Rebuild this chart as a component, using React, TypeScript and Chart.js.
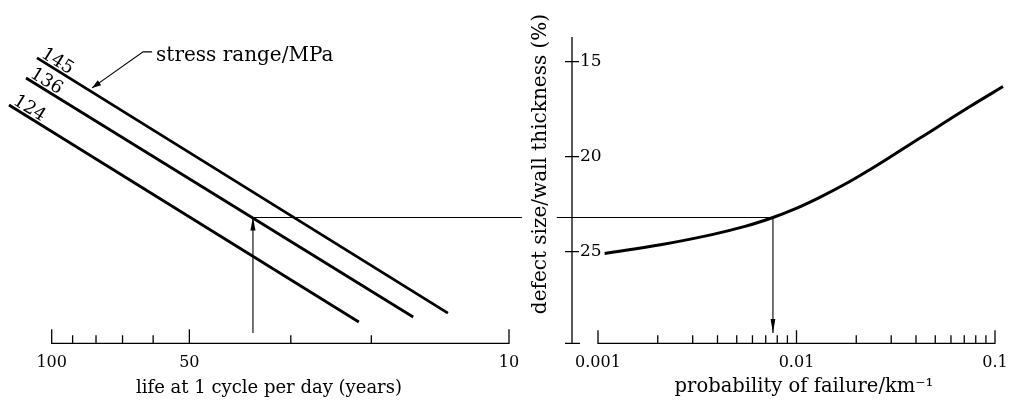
import React, { useEffect, useRef } from "react";
import { Chart, registerables } from "chart.js";

Chart.register(...registerables);

// ---------------- data ----------------
// left panel: life at 1 cycle per day (years), log axis running 100 -> 10
const lifeTickValues = [100, 90, 80, 70, 60, 50, 30, 20, 10];
const lifeMajorTicks = [100, 50, 10];

// right panel: probability of failure per km, log axis 0.001 -> 0.1
const probTickValues = [
  0.001, 0.002, 0.003, 0.004, 0.005, 0.006, 0.007, 0.008, 0.009,
  0.01, 0.02, 0.03, 0.04, 0.05, 0.06, 0.07, 0.08, 0.09, 0.1,
];
const probMajorTicks = [0.001, 0.01, 0.1];

// shared vertical quantity: defect size / wall thickness (%)
const defectTickValues = [15, 20, 25];
const defectAxisTop = 13.7;

// stress-range lines (start and end of each straight line)
const stressRanges = ["145", "136", "124"];
const life145 = [107.7, 13.6];
const defect145 = [14.8, 28.23];
const life136 = [113.8, 16.2];
const defect136 = [15.86, 28.44];
const life124 = [124.0, 21.3];
const defect124 = [17.28, 28.7];

// probability-of-failure curve
const failureProbability = [
  0.00108, 0.0021, 0.00375, 0.0055, 0.00761, 0.00983, 0.0131, 0.0176, 0.0235, 0.0313, 0.0419, 0.0748, 0.1097,
];
const failureDefect = [
  25.09, 24.62, 24.1, 23.67, 23.2, 22.75, 22.14, 21.44, 20.67, 19.86, 19.02, 17.36, 16.31,
];

// worked example (construction lines)
const exampleDefect = 23.2;
const exampleLife = 36.3;
const exampleProbability = 0.00761;
const guideLifeEnd = 9.37;
const guideProbStart = 0.00062;
const arrowFootDefect = 29.28;

// annotation pointing at the 145 MPa line
const stressNoteText = "stress range/MPa";
const stressNoteLife = 81.6;
const stressNoteDefect = 16.38;

// ---------------- style / layout ----------------
const INK = "#000";
const FONT = "'DejaVu Serif', 'Liberation Serif', serif";
const W = 1013;
const H = 401;
const AREA_BOTTOM = 343.3;
const XAXIS_HEIGHT = H - AREA_BOTTOM;

Chart.defaults.font.family = FONT;
Chart.defaults.color = INK;

function logAt(px: number, pxA: number, vA: number, pxB: number, vB: number) {
  const la = Math.log10(vA);
  const lb = Math.log10(vB);
  return Math.pow(10, la + ((lb - la) * (px - pxA)) / (pxB - pxA));
}
function linAt(px: number, pxA: number, vA: number, pxB: number, vB: number) {
  return vA + ((vB - vA) * (px - pxA)) / (pxB - pxA);
}
function textWidth(text: string, size: number) {
  const c = document.createElement("canvas").getContext("2d")!;
  c.font = `${size}px ${FONT}`;
  return c.measureText(text).width;
}
function pts(xs: number[], ys: number[]) {
  return xs.map((x, i) => ({ x, y: ys[i] }));
}

function drawArrowHead(
  ctx: CanvasRenderingContext2D,
  x1: number, y1: number, x2: number, y2: number,
  len: number, half: number
) {
  const a = Math.atan2(y2 - y1, x2 - x1);
  const c = Math.cos(a);
  const s = Math.sin(a);
  ctx.beginPath();
  ctx.moveTo(x2, y2);
  ctx.lineTo(x2 - len * c + half * s, y2 - len * s - half * c);
  ctx.lineTo(x2 - len * c - half * s, y2 - len * s + half * c);
  ctx.closePath();
  ctx.fill();
}

const figurePlugin = {
  id: "figure",
  afterDraw(chart: any, _args: any, opts: any) {
    const ctx: CanvasRenderingContext2D = chart.ctx;
    const area = chart.chartArea;
    const sx = chart.scales.x;
    const sy = chart.scales.y;
    ctx.save();
    ctx.strokeStyle = INK;
    ctx.fillStyle = INK;

    // bottom axis line with inward ticks
    if (opts.xAxis) {
      const yb = area.bottom;
      const n = sx.ticks.length;
      const p0 = sx.getPixelForTick(0);
      const p1 = sx.getPixelForTick(n - 1);
      ctx.lineWidth = 1.3;
      ctx.beginPath();
      ctx.moveTo(Math.min(p0, p1) - 0.6, yb);
      ctx.lineTo(Math.max(p0, p1) + 0.6, yb);
      sx.ticks.forEach((t: any, i: number) => {
        const p = sx.getPixelForTick(i);
        const len = t.major ? opts.xAxis.majorLen : opts.xAxis.minorLen;
        ctx.moveTo(p, yb + 0.6);
        ctx.lineTo(p, yb - len);
      });
      ctx.stroke();
    }

    // vertical axis with cross ticks
    if (opts.yAxis) {
      const x0 = area.left;
      const top = sy.getPixelForValue(opts.yAxis.top);
      const bottom = area.bottom;
      const h = opts.yAxis.half;
      ctx.lineWidth = 1.3;
      ctx.beginPath();
      ctx.moveTo(x0, top);
      ctx.lineTo(x0, bottom);
      sy.ticks.forEach((_t: any, i: number) => {
        const p = sy.getPixelForTick(i);
        ctx.moveTo(x0 - h, p);
        ctx.lineTo(x0 + h, p);
      });
      ctx.moveTo(x0 - h, bottom);
      ctx.lineTo(x0 + h + 1, bottom);
      ctx.stroke();
    }

    // arrow heads and in-line labels
    chart.data.datasets.forEach((ds: any, i: number) => {
      const el = chart.getDatasetMeta(i).data;
      if (ds.arrowHead && el.length >= 2) {
        const a = el[el.length - 2];
        const b = el[el.length - 1];
        drawArrowHead(ctx, a.x, a.y, b.x, b.y, ds.arrowHead.length, ds.arrowHead.half);
      }
      if (ds.lineLabel && el.length >= 2) {
        const a = el[0];
        const b = el[1];
        ctx.save();
        ctx.translate(a.x, a.y);
        ctx.rotate(Math.atan2(b.y - a.y, b.x - a.x));
        ctx.font = opts.lineLabelFont;
        ctx.textAlign = "left";
        ctx.textBaseline = "alphabetic";
        ctx.fillText(ds.lineLabel, 2, -3);
        ctx.restore();
      }
    });

    // leader annotation
    if (opts.note) {
      const n = opts.note;
      const tx = sx.getPixelForValue(n.x);
      const ty = sy.getPixelForValue(n.y);
      const kx = tx + n.knee[0];
      const ky = ty + n.knee[1];
      ctx.lineWidth = 1.1;
      ctx.beginPath();
      ctx.moveTo(kx + n.tail, ky);
      ctx.lineTo(kx, ky);
      ctx.lineTo(tx, ty);
      ctx.stroke();
      drawArrowHead(ctx, kx, ky, tx, ty, 9, 3);
      ctx.font = n.font;
      ctx.textAlign = "left";
      ctx.textBaseline = "alphabetic";
      ctx.fillText(n.text, kx + n.tail + 4, ky + 9);
    }
    ctx.restore();
  },
};

function lineStyle(width: number) {
  return {
    showLine: true,
    borderColor: INK,
    backgroundColor: INK,
    borderWidth: width,
    pointRadius: 0,
    pointHoverRadius: 0,
    clip: false as const,
    fill: false,
  };
}

export default function App() {
  const leftRef = useRef<HTMLCanvasElement | null>(null);
  const rightRef = useRef<HTMLCanvasElement | null>(null);

  useEffect(() => {
    const yTitle = "defect size/wall thickness (%)";
    const rTitle = "probability of failure/km\u207B\u00B9";
    const lTitle = "life at 1 cycle per day (years)";
    const Y_TITLE_SIZE = 20;
    const L_TITLE_SIZE = 18;
    const R_TITLE_SIZE = 19.5;

    // vertical mapping shared by both panels (15 % at y=61.7 px, 25 % at y=251.7 px)
    const areaTop = 164 - textWidth(yTitle, Y_TITLE_SIZE) / 2;
    const yMin = linAt(areaTop, 61.7, 15, 251.7, 25);
    const yMax = linAt(AREA_BOTTOM, 61.7, 15, 251.7, 25);

    // left panel horizontal mapping (100 y at 51.7 px, 10 y at 509 px)
    const lLeft = 9;
    const lRight = 529;
    const lMax = logAt(lLeft, 51.7, 100, 509, 10);
    const lMin = logAt(lRight, 51.7, 100, 509, 10);

    // right panel horizontal mapping (0.001 at 598 px, 0.1 at 995 px)
    const rLeft = 572;
    const rRight = 804 + textWidth(rTitle, R_TITLE_SIZE) / 2;
    const rMin = logAt(rLeft, 598, 0.001, 995, 0.1);
    const rMax = logAt(rRight, 598, 0.001, 995, 0.1);
    const yPadLeft = 529;

    const tickFont = { family: FONT, size: 16 };

    const left = new Chart(leftRef.current!, {
      type: "scatter",
      data: {
        datasets: [
          { ...lineStyle(2.8), data: pts(life145, defect145), lineLabel: stressRanges[0] } as any,
          { ...lineStyle(2.8), data: pts(life136, defect136), lineLabel: stressRanges[1] } as any,
          { ...lineStyle(2.8), data: pts(life124, defect124), lineLabel: stressRanges[2] } as any,
          {
            ...lineStyle(1.1),
            data: pts([exampleLife, guideLifeEnd], [exampleDefect, exampleDefect]),
          },
          {
            ...lineStyle(1.1),
            data: pts([exampleLife, exampleLife], [arrowFootDefect, exampleDefect]),
            arrowHead: { length: 13, half: 2.6 },
          } as any,
        ],
      },
      options: {
        responsive: false,
        animation: false,
        events: [],
        layout: { padding: { left: lLeft, right: W - lRight, top: areaTop, bottom: 0 } },
        plugins: {
          legend: { display: false },
          tooltip: { enabled: false },
          figure: {
            xAxis: { majorLen: 14, minorLen: 8 },
            lineLabelFont: `18px ${FONT}`,
            note: {
              x: stressNoteLife,
              y: stressNoteDefect,
              knee: [51, -36],
              tail: 9,
              text: stressNoteText,
              font: `20px ${FONT}`,
            },
          },
        } as any,
        scales: {
          x: {
            type: "logarithmic",
            reverse: true,
            min: lMin,
            max: lMax,
            bounds: "data",
            afterBuildTicks: (s: any) => {
              s.ticks = lifeTickValues.map((v) => ({ value: v, major: lifeMajorTicks.includes(v) }));
            },
            afterFit: (s: any) => {
              s.height = XAXIS_HEIGHT;
              s.paddingLeft = 0;
              s.paddingRight = 0;
            },
            ticks: {
              autoSkip: false,
              maxRotation: 0,
              padding: 9.6,
              color: INK,
              font: tickFont,
              callback: (v: any) => (lifeMajorTicks.includes(Number(v)) ? String(v) : ""),
            },
            grid: { display: false, drawTicks: false },
            border: { display: false },
            title: {
              display: true,
              text: lTitle,
              color: INK,
              font: { family: FONT, size: L_TITLE_SIZE },
              padding: { top: 0, bottom: 2.2 },
            },
          },
          y: { type: "linear", reverse: true, min: yMin, max: yMax, display: false },
        },
      } as any,
      plugins: [figurePlugin],
    });

    const right = new Chart(rightRef.current!, {
      type: "scatter",
      data: {
        datasets: [
          {
            ...lineStyle(3),
            // drawn from the high-probability end so the point beyond the title edge is kept
            data: pts(failureProbability, failureDefect).reverse(),
            tension: 0.4,
          } as any,
          {
            ...lineStyle(1.1),
            data: pts([guideProbStart, exampleProbability], [exampleDefect, exampleDefect]),
          },
          {
            ...lineStyle(1.1),
            data: pts([exampleProbability, exampleProbability], [exampleDefect, arrowFootDefect]),
            arrowHead: { length: 14, half: 2.4 },
          } as any,
        ],
      },
      options: {
        responsive: false,
        animation: false,
        events: [],
        layout: { padding: { left: yPadLeft, right: W - rRight, top: areaTop, bottom: 0 } },
        plugins: {
          legend: { display: false },
          tooltip: { enabled: false },
          figure: {
            xAxis: { majorLen: 13, minorLen: 8 },
            yAxis: { top: defectAxisTop, half: 7 },
          },
        } as any,
        scales: {
          x: {
            type: "logarithmic",
            min: rMin,
            max: rMax,
            bounds: "data",
            afterBuildTicks: (s: any) => {
              s.ticks = probTickValues.map((v) => ({ value: v, major: probMajorTicks.includes(v) }));
            },
            afterFit: (s: any) => {
              s.height = XAXIS_HEIGHT;
              s.paddingLeft = 0;
              s.paddingRight = 0;
            },
            ticks: {
              autoSkip: false,
              maxRotation: 0,
              padding: 9.6,
              color: INK,
              font: tickFont,
              callback: (v: any) => (probMajorTicks.includes(Number(v)) ? String(v) : ""),
            },
            grid: { display: false, drawTicks: false },
            border: { display: false },
            title: {
              display: true,
              text: rTitle,
              align: "end",
              color: INK,
              font: { family: FONT, size: R_TITLE_SIZE },
              padding: { top: 0, bottom: 2.2 },
            },
          },
          y: {
            type: "linear",
            position: "left",
            weight: 0,
            reverse: true,
            min: yMin,
            max: yMax,
            afterBuildTicks: (s: any) => {
              s.ticks = defectTickValues.map((v) => ({ value: v }));
            },
            afterFit: (s: any) => {
              s.width = rLeft - yPadLeft - 24;
              s.paddingTop = 0;
              s.paddingBottom = 0;
            },
            ticks: {
              mirror: true,
              padding: 8,
              color: INK,
              font: { family: FONT, size: 17 },
              callback: (v: any) => String(v),
            },
            grid: { display: false, drawTicks: false },
            border: { display: false },
          },
          yTitle: {
            type: "linear",
            position: "left",
            weight: 1,
            ticks: { display: false },
            grid: { display: false, drawTicks: false },
            border: { display: false },
            afterFit: (s: any) => {
              s.width = 24;
              s.paddingTop = 0;
              s.paddingBottom = 0;
            },
            title: {
              display: true,
              text: yTitle,
              align: "end",
              color: INK,
              font: { family: FONT, size: Y_TITLE_SIZE },
              padding: 0,
            },
          },
        },
      } as any,
      plugins: [figurePlugin],
    });

    return () => {
      left.destroy();
      right.destroy();
    };
  }, []);

  return (
    <div
      style={{
        position: "fixed",
        left: 0,
        top: 0,
        width: W,
        height: H,
        background: "#fff",
        overflow: "hidden",
      }}
    >
      <canvas ref={leftRef} width={W} height={H} style={{ position: "absolute", left: 0, top: 0 }} />
      <canvas ref={rightRef} width={W} height={H} style={{ position: "absolute", left: 0, top: 0 }} />
    </div>
  );
}
